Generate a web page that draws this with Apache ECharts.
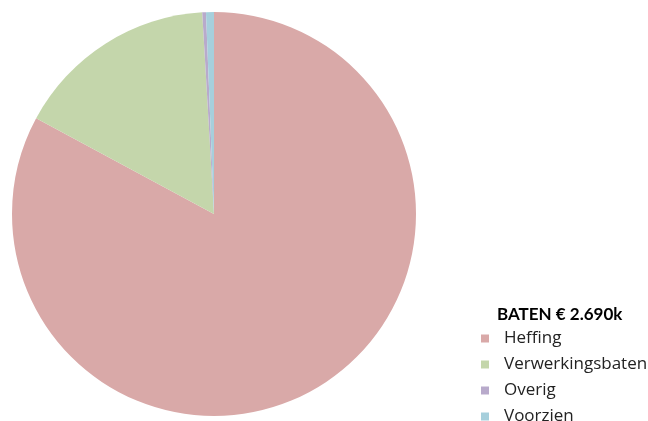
<!DOCTYPE html>
<html>
<head>
<meta charset="utf-8">
<script src="https://cdn.jsdelivr.net/npm/echarts@6/dist/echarts.min.js"></script>
<style>
  html, body { margin: 0; padding: 0; background: #fff; }
  #main { width: 648px; height: 421px; }
</style>
</head>
<body>
<div id="main"></div>
<script>
var categories = ["Heffing", "Verwerkingsbaten", "Overig", "Voorzien"];
var values = [2229, 436, 8, 17];
var colors = ["#d9a9a8", "#c4d6ab", "#b8aacb", "#a6cfdc"];
var titleText = "BATEN € 2.690k";

var chart = echarts.init(document.getElementById("main"));
var option = {
  animation: false,
  title: {
    text: titleText,
    left: 492,
    top: 301,
    textStyle: { fontFamily: "Lato", fontSize: 17, fontWeight: "bold", color: "#000" }
  },
  legend: {
    orient: "vertical",
    left: 481,
    top: 330,
    height: 150,
    padding: 0,
    icon: "rect",
    itemWidth: 8,
    itemHeight: 8,
    itemGap: 9,
    data: categories,
    textStyle: { fontFamily: "Open Sans", fontSize: 17, color: "#222", padding: [0, 0, 0, 10] }
  },
  series: [{
    type: "pie",
    center: [214, 214],
    radius: 202,
    startAngle: 90,
    clockwise: true,
    label: { show: false },
    labelLine: { show: false },
    emphasis: { disabled: true },
    data: categories.map(function (c, i) {
      return { name: c, value: values[i], itemStyle: { color: colors[i] } };
    })
  }]
};
option && chart.setOption(option);
</script>
</body>
</html>
